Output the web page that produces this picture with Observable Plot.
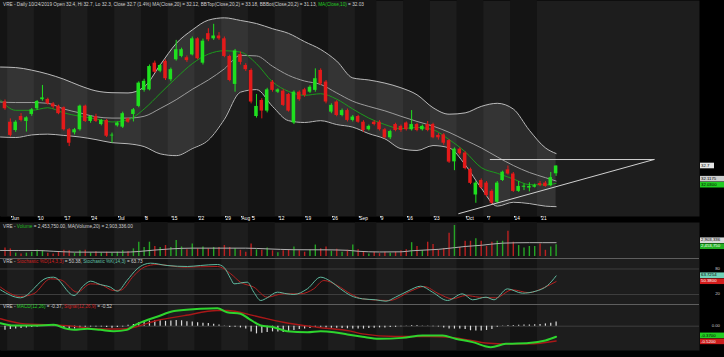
<!DOCTYPE html>
<html><head><meta charset="utf-8">
<script src="https://cdn.jsdelivr.net/npm/d3@7"></script>
<script src="https://cdn.jsdelivr.net/npm/@observablehq/plot@0.6"></script>
<style>
html,body{margin:0;padding:0;background:#000;}
#chart{position:relative;width:724px;height:357px;background:#000;overflow:hidden;}
#chart svg{position:absolute;left:0;}
</style></head><body><div id="chart"></div>
<script>
// ---------- data ----------
const dates = ["05-31","06-03","06-04","06-05","06-06","06-07","06-10","06-11","06-12","06-13","06-14","06-17","06-18","06-19","06-20","06-21","06-24","06-25","06-26","06-27","06-28","07-01","07-02","07-03","07-04","07-05","07-08","07-09","07-10","07-11","07-12","07-15","07-16","07-17","07-18","07-19","07-22","07-23","07-24","07-25","07-26","07-29","07-30","07-31","08-01","08-02","08-05","08-06","08-07","08-08","08-09","08-12","08-13","08-14","08-15","08-16","08-19","08-20","08-21","08-22","08-23","08-26","08-27","08-28","08-29","08-30","09-03","09-04","09-05","09-06","09-09","09-10","09-11","09-12","09-13","09-16","09-17","09-18","09-19","09-20","09-23","09-24","09-25","09-26","09-27","09-30","10-01","10-02","10-03","10-04","10-07","10-08","10-09","10-10","10-11","10-14","10-15","10-16","10-17","10-18","10-21","10-22","10-23","10-24"];

const open = [35.17,34.39,34.07,34.61,34.42,34.69,34.91,35.26,35.27,35.10,
  35.01,34.95,34.10,33.98,34.10,35.01,34.42,34.61,34.30,34.46,
  33.86,34.25,34.20,34.52,34.69,35.00,35.62,35.64,36.67,36.36,
  36.74,36.03,36.80,36.93,36.88,36.99,37.61,36.67,37.81,37.61,
  37.72,37.61,36.93,35.85,37.00,36.58,36.39,34.61,35.23,34.82,
  35.94,35.55,35.59,35.46,34.36,35.55,35.64,35.55,35.62,36.39,
  35.94,34.78,35.17,34.65,34.84,34.46,34.61,34.39,34.10,34.39,
  34.39,34.10,33.79,34.30,34.23,34.36,34.10,34.30,34.10,34.30,
  34.30,33.88,33.90,33.68,32.86,33.35,33.20,32.57,31.58,32.14,
  32.04,31.72,31.30,32.14,32.55,32.39,31.72,31.88,31.85,31.88,
  32.02,32.04,31.94,32.40];
const close = [34.91,33.88,34.39,34.46,34.56,34.87,35.19,35.33,35.10,34.98,
  34.72,34.10,33.58,34.10,35.01,34.42,34.61,34.42,34.46,33.85,
  33.89,34.36,34.72,34.39,34.87,35.90,35.97,36.54,36.32,36.58,
  36.07,36.42,37.19,37.19,36.77,37.61,36.84,37.52,37.57,37.72,
  37.61,36.93,36.00,37.14,36.70,36.42,35.17,35.00,34.82,35.64,
  35.62,35.64,35.04,34.82,35.55,35.26,35.42,35.74,36.07,35.87,
  35.17,35.04,34.65,34.84,34.46,34.59,34.39,34.07,34.23,34.30,
  34.10,33.79,34.03,34.07,34.07,34.10,34.30,34.07,34.23,34.07,
  33.79,33.79,33.58,32.85,33.35,33.17,32.60,32.03,32.04,31.86,
  31.56,31.26,32.04,32.46,32.39,31.72,31.91,31.92,31.91,31.94,
  31.95,31.91,32.25,32.70];
const high = [35.25,34.52,34.45,34.72,34.60,34.92,35.23,35.81,35.32,35.15,
  35.05,34.98,34.15,34.15,35.05,35.05,34.65,34.70,34.50,34.50,
  33.97,34.40,34.78,34.55,34.92,35.95,36.05,36.60,36.75,36.62,
  36.80,36.48,37.55,37.25,36.95,37.68,37.65,37.60,38.00,38.17,
  37.85,37.68,36.98,37.20,37.10,36.65,36.45,35.46,35.30,35.70,
  36.00,35.68,35.65,35.50,35.60,35.60,35.70,35.80,36.45,36.45,
  36.00,35.10,35.22,34.90,34.90,34.65,34.66,34.45,34.28,34.45,
  34.45,34.15,34.08,34.35,34.28,34.40,34.84,34.35,34.28,34.42,
  34.35,33.95,33.95,33.72,33.40,33.40,33.25,32.62,32.10,32.20,
  32.10,31.78,32.10,32.50,32.70,32.45,32.10,32.00,32.05,32.00,
  32.10,32.10,32.45,32.70];
const low = [34.85,33.82,34.00,34.40,34.01,34.62,34.85,35.20,35.05,34.90,
  34.68,34.05,33.45,33.90,34.05,34.38,34.35,34.38,34.25,33.80,
  33.58,34.20,34.15,34.35,34.40,34.95,35.55,35.60,36.28,36.30,
  36.00,35.95,36.75,36.88,36.70,36.95,36.80,36.60,37.50,37.55,
  37.55,36.88,35.95,35.55,36.60,36.35,35.10,34.55,34.52,34.75,
  35.55,35.50,35.00,34.78,34.30,35.20,35.35,35.50,35.55,35.80,
  35.10,34.72,34.60,34.60,34.40,34.40,34.35,34.00,34.05,34.25,
  34.05,33.75,33.72,34.02,34.00,34.05,34.05,34.02,34.05,34.02,
  33.75,33.70,33.50,32.80,32.52,33.10,32.55,31.98,31.26,31.80,
  31.50,31.20,31.25,32.10,32.35,31.68,31.68,31.75,31.70,31.85,
  31.90,31.88,31.90,32.30];
// volume in millions of shares
const volume = [1.8,1.6,0.7,0.5,0.7,0.9,1.3,1.2,0.7,0.5,
  0.9,1.3,1.2,0.7,1.2,1.3,0.7,1.0,0.7,0.9,
  0.7,0.9,1.2,1.0,1.6,3.0,1.9,3.0,2.1,1.9,
  2.3,1.9,3.35,2.0,1.4,2.6,1.6,2.0,1.6,1.9,
  1.9,2.3,1.9,1.6,1.3,0.9,2.6,1.4,1.3,1.8,
  1.2,0.8,1.2,1.3,2.0,1.2,0.9,1.3,2.4,1.6,
  2.0,1.1,1.5,0.9,1.3,2.4,1.4,0.9,0.5,0.9,
  0.6,0.9,0.7,0.9,1.2,1.4,2.9,2.1,1.2,3.0,
  2.5,1.4,1.6,4.9,6.5,1.9,3.2,3.2,3.7,3.2,
  2.1,3.0,3.2,3.2,5.3,3.0,2.3,1.8,2.1,2.1,
  2.6,1.3,2.0,2.45];
const macdHist = [-0.14,-0.12,-0.10,-0.08,-0.06,-0.05,-0.03,-0.01,0.01,0.02,
  -0.02,-0.08,-0.12,-0.10,-0.06,-0.04,-0.03,-0.03,-0.03,-0.05,
  -0.07,-0.05,-0.03,0.03,0.06,0.12,0.15,0.18,0.19,0.19,
  0.17,0.18,0.20,0.19,0.16,0.15,0.12,0.10,0.09,0.07,
  0.04,0.01,-0.05,-0.04,-0.06,-0.10,-0.20,-0.27,-0.25,-0.22,
  -0.20,-0.20,-0.22,-0.20,-0.15,-0.12,-0.10,-0.08,-0.05,-0.04,
  -0.06,-0.07,-0.07,-0.08,-0.09,-0.10,-0.10,-0.10,-0.08,-0.07,
  -0.06,-0.06,-0.05,-0.04,-0.02,0.01,0.02,0.02,0.01,0.01,
  -0.02,-0.03,-0.06,-0.10,-0.10,-0.10,-0.12,-0.16,-0.17,-0.17,
  -0.15,-0.12,-0.04,0.01,0.02,0.02,0.03,0.04,0.04,0.05,
  0.06,0.08,0.10,0.15];

// overlay lines at sample days (day index, value)
const bandIdx = [-0.84,2,5,8,11,14,17,20,23,26,29,32,35,38,41,44,47,50,53,56,59,62,65,68,71,74,77,80,83,86,89,92,95,98,101,103];
const bbTop = [36.52,36.5,36.4,36.25,36.05,35.8,35.6,35.53,35.52,35.75,36.6,37.43,37.95,38.33,38.42,38.32,38.2,38.0,37.82,37.5,37.2,36.75,36.1,36.02,35.9,35.72,35.45,34.95,34.7,34.75,35.0,35.12,34.9,34.08,33.4,33.18];
const ma20 = [35.17,35.15,35.15,35.12,34.9,34.75,34.6,34.55,34.55,34.62,34.92,35.26,35.66,36.02,36.45,36.97,36.95,36.55,36.2,35.98,35.85,35.52,35.2,35.0,34.83,34.62,34.42,34.24,34.0,33.7,33.4,33.05,32.72,32.45,32.25,32.12];
const bbBot = [33.82,33.8,33.9,33.93,33.88,33.82,33.72,33.6,33.56,33.45,33.17,33.1,33.37,33.7,34.5,35.55,35.65,35.0,34.45,34.38,34.45,34.3,34.2,33.95,33.75,33.37,33.3,33.49,33.4,32.75,31.85,31.15,31.3,31.25,31.15,31.13];
const ma10 = [35.25,34.85,34.85,34.95,34.75,34.62,34.52,34.4,34.48,34.9,35.5,36.1,36.65,37.02,37.15,37.1,36.65,35.95,35.58,35.43,35.49,35.28,34.9,34.55,34.3,34.14,34.19,34.1,33.72,33.25,32.64,32.42,32.2,31.98,31.97,32.03];

const volMA = [[-0.84,1.26],[6,1.26],[9,1.1],[13,0.92],[22,0.9],[25,1.05],[28,1.35],[31,1.6],[35,1.75],[45,1.75],[49,1.6],[54,1.42],[60,1.4],[64,1.3],[66,1.1],[70,0.95],[74,0.98],[76,1.2],[81,1.5],[84,1.85],[86,2.1],[89,2.35],[93,2.8],[98,2.9],[103,2.9]];

const stochK = [[-0.84,31],[2.9,12.2],[7.9,59.2],[9.1,60.8],[12.9,17.6],[14.7,41.2],[16,51.4],[17.8,43.5],[19.7,37.3],[21,27.8],[22.8,52.9],[24.7,80.4],[26,90.6],[27.2,93.7],[30.3,88.2],[34.1,85.9],[36.5,88.2],[39.7,90.6],[40.9,84.3],[42.2,56.9],[42.8,45.1],[45.3,49.0],[46.5,25.5],[47.8,5.9],[49,12.2],[50.9,25.5],[52.7,21.6],[54,20.0],[56.5,33.3],[59,60.8],[60.8,51.4],[62.7,33.3],[64.6,17.6],[66.8,9.8],[69.3,7.5],[71.2,4.3],[73,13.7],[75.5,29.4],[77.7,39.6],[79.9,25.5],[82.7,5.9],[85.5,21.6],[87.4,7.5],[89.9,13.7],[91.4,7.5],[93.9,33.3],[96.7,23.1],[99.2,27.8],[101.4,41.2],[103,63.73]];
const stochD = [[-0.84,37.3],[2.9,15.3],[5.4,22],[8.5,56.9],[10.4,54.5],[13.5,25.5],[16,45.1],[17.8,43.5],[20.3,29.4],[21.6,30],[24.1,64.7],[26,84.3],[28.4,90.6],[33.5,84.3],[39.7,85.9],[42.2,68.6],[44,49],[46.5,37.3],[49,13.7],[52,21.6],[55.2,21.6],[57.7,33.3],[59.6,52.9],[62.1,41.2],[64.6,21.6],[66.8,9.8],[71.8,5.9],[76.1,29.4],[78.3,38.8],[81.1,21.6],[83.6,9.8],[86.1,17.6],[88.6,13.7],[91.7,12.2],[94.8,31.0],[97.9,24.3],[100.8,36.5],[103,50.38]];

const macdLine = [[-0.84,0.106],[1.7,0.023],[5.4,0.023],[9.1,0.047],[11.6,-0.094],[12.9,-0.129],[15.4,-0.094],[17.8,-0.129],[20.3,-0.175],[22.8,-0.129],[24.1,0.023],[26,0.175],[28.4,0.33],[31.6,0.53],[36.5,0.61],[39.7,0.63],[41.5,0.49],[44,0.434],[45.6,0.26],[47.8,0.023],[50.2,-0.035],[52.7,-0.175],[56.5,-0.21],[59,-0.175],[61.5,-0.21],[64,-0.29],[66.8,-0.37],[69.9,-0.44],[74.3,-0.41],[78,-0.33],[81.8,-0.33],[84.2,-0.44],[87.4,-0.56],[90.8,-0.74],[93.6,-0.62],[97.9,-0.59],[101,-0.5],[103,-0.37]];
const signalLine = [[-0.84,0.26],[2.9,0.1],[11.6,0.02],[17.8,-0.1],[22,-0.1],[24.1,-0.04],[28.4,0.2],[33.5,0.37],[39.7,0.55],[41.5,0.55],[46.5,0.37],[52,0.14],[58.3,-0.035],[64.6,-0.175],[66.8,-0.27],[73,-0.36],[79.3,-0.36],[84.2,-0.41],[90.5,-0.6],[93.6,-0.62],[97.9,-0.62],[103,-0.52]];

// user-drawn triangle (day index, price)
const trendFlat = [[90.7,32.95],[121.3,32.95]];
const trendRise = [[84.8,30.86],[121.3,32.95]];

const tickDates = ["06-03","06-10","06-17","06-24","07-01","07-08","07-15","07-22","07-29","08-01","08-05","08-12","08-19","08-26","09-03","09-09","09-16","09-23","10-01","10-07","10-14","10-21"];
const tickLabels = ["Jun","10","17","24","Jul","8","15","22","29","Aug","5","12","19","26","Sep","9","16","23","Oct","7","14","21"];

// ---------- derived tables ----------
const candles = dates.map((d, i) => ({i, d, o: open[i], h: high[i], l: low[i], c: close[i], v: volume[i], hist: macdHist[i]}));
const bands = bandIdx.map((i, k) => ({i, hi: bbTop[k], mid: ma20[k], lo: bbBot[k], ma10: ma10[k]}));
const dow = dates.map(d => new Date("2019-" + d + "T00:00:00Z").getUTCDay());
const starts = dates.map((d, i) => i).filter(i => i === 0 || dow[i] <= dow[i - 1]);
const XD = [-0.84, 129.8];
const weeks = starts.map((s, k) => ({k, x1: k === 0 ? XD[0] : s - 0.5, x2: (k + 1 < starts.length ? starts[k + 1] : dates.length) - 0.5}));
const darkWeeks = weeks.filter(w => w.k % 2 === 0);
const tickIdx = tickDates.map(d => dates.indexOf(d));
const tickMap = new Map(tickIdx.map((t, k) => [t, tickLabels[k]]));

const FONT = "Liberation Sans, Arial, Helvetica, sans-serif";
const BG = "#1d1d1d", DARK = "#141414";
const UP = "#1fe01f", DOWN = "#e41a1a";
const isUp = d => d.c >= d.o;

function base(extra) {
  return [Plot.frame({fill: BG, stroke: null}), Plot.rect(darkWeeks, {x1: "x1", x2: "x2", fill: DARK}), ...extra];
}
function mk(height, yd, marks, mb = 0) {
  return Plot.plot({
    width: 724, height, marginLeft: 0, marginRight: 25, marginTop: 0, marginBottom: mb,
    x: {domain: XD, axis: null}, y: {domain: yd, axis: null},
    style: {background: "transparent", overflow: "visible", fontFamily: FONT},
    marks
  });
}

const chart = document.getElementById("chart");
function place(svg, top) { svg.style.top = top + "px"; chart.appendChild(svg); return svg; }

function header(svg, y, parts, size = 4.7) {
  const t = d3.select(svg).append("text").attr("x", 3).attr("y", y).attr("text-anchor", "start")
    .attr("font-family", FONT).attr("font-size", size).attr("dominant-baseline", "middle");
  parts.forEach(([s, c]) => t.append("tspan").attr("fill", c).text(s));
}
function rlabels(svg, plot, items) {
  const ys = plot.scale("y");
  const arr = items.map(it => ({...it, y: ys.apply(it.v)})).sort((a, b) => a.y - b.y);
  for (let pass = 0; pass < 3; pass++)
    for (let j = 1; j < arr.length; j++) {
      const gap = arr[j].y - arr[j - 1].y;
      if (gap < 6) { const s = (6 - gap) / 2; arr[j].y += s; arr[j - 1].y -= s; }
    }
  const g = d3.select(svg).append("g");
  arr.forEach(a => {
    if (a.bg) g.append("rect").attr("x", 700).attr("y", a.y - 2.8).attr("width", a.w || 24).attr("height", 5.6).attr("fill", a.bg);
    g.append("text").attr("x", a.bg ? 701 : 720).attr("y", a.y).attr("text-anchor", a.bg ? "start" : "end")
      .attr("dominant-baseline", "middle").attr("font-family", FONT).attr("font-size", 4.3).attr("fill", a.fg).text(a.text);
  });
}
function sep(svg) {
  d3.select(svg).append("line").attr("x1", 0).attr("x2", 699).attr("y1", 0.5).attr("y2", 0.5).attr("stroke", "#5e5e5e").attr("stroke-width", 1);
}
const GRAY = "#cfcfcf";

// ---------- main price panel ----------
const main = mk(222, [30.75, 39.09], base([
  Plot.areaY(bands, {x: "i", y1: "lo", y2: "hi", fill: "#ffffff", fillOpacity: 0.1, curve: "monotone-x"}),
  Plot.line(bands, {x: "i", y: "hi", stroke: "#b8b8b8", strokeWidth: 1, curve: "monotone-x"}),
  Plot.line(bands, {x: "i", y: "lo", stroke: "#b8b8b8", strokeWidth: 1, curve: "monotone-x"}),
  Plot.line(bands, {x: "i", y: "mid", stroke: "#9c9c9c", strokeWidth: 1, curve: "monotone-x"}),
  Plot.line(bands, {x: "i", y: "ma10", stroke: "#1c9a1c", strokeWidth: 1, curve: "monotone-x"}),
  Plot.ruleX(candles, {x: "i", y1: "l", y2: "h", stroke: d => isUp(d) ? UP : DOWN, strokeWidth: 1}),
  Plot.rect(candles, {x1: d => d.i - 0.33, x2: d => d.i + 0.33, y1: "o", y2: "c", fill: d => isUp(d) ? UP : DOWN}),
  Plot.line(trendFlat, {stroke: "#d0d0d0", strokeWidth: 1}),
  Plot.line(trendRise, {stroke: "#d0d0d0", strokeWidth: 1}),
  Plot.axisX(tickIdx, {anchor: "bottom", tickSize: 1.5, tickPadding: -1.2, tickFormat: d => tickMap.get(d), fontSize: 4.8, color: "#ffffff", textAnchor: "start", dx: 1.2})
]), 6);
place(main, 0);
header(main, 4.8, [["VRE - Daily 10/24/2019 Open 32.4, Hi 32.7, Lo 32.3, Close 32.7 (1.4%) MA(Close,20) = 32.12, BBTop(Close,20,2) = 33.18, BBBot(Close,20,2) = 31.13, ", GRAY], ["MA(Close,10)", "#22cc22"], [" = 32.03", GRAY]]);
rlabels(main, main, [
  {v: 32.7, text: "32.7", bg: "#e4e4e4", fg: "#000", w: 14},
  {v: 32.12, text: "32.1175", bg: "#cccccc", fg: "#000"},
  {v: 32.03, text: "32.0300", bg: "#22cc22", fg: "#000"}
]);

// ---------- volume panel ----------
const vol = mk(36, [-0.42, 7.13], base([
  Plot.ruleX(candles, {x: "i", y1: 0, y2: "v", stroke: d => isUp(d) ? "#25a525" : "#bb2020", strokeWidth: 1.4}),
  Plot.line(volMA, {stroke: "#b0b0b0", strokeWidth: 1, curve: "monotone-x"})
]));
place(vol, 222);
header(vol, 4.7, [["VRE - ", GRAY], ["Volume", "#22bb22"], [" = 2,453,750.00, MA(Volume,20) = 2,903,336.00", GRAY]]);
rlabels(vol, vol, [
  {v: 2.903, text: "2,903,336", bg: "#d8d8d8", fg: "#000"},
  {v: 2.454, text: "2,453,750", bg: "#22b022", fg: "#fff"}
]);

// ---------- stochastic panel ----------
const sto = mk(46, [-3.53, 104.7], base([
  Plot.ruleY([20, 80], {stroke: "#3e3e3e", strokeWidth: 1}),
  Plot.line(stochD, {stroke: "#b42020", strokeWidth: 1, curve: "monotone-x"}),
  Plot.line(stochK, {stroke: "#5fb89e", strokeWidth: 1, curve: "monotone-x"})
]));
place(sto, 258);
sep(sto);
header(sto, 3.8, [["VRE - ", GRAY], ["Stochastic %D(14,3,3)", "#cc2020"], [" = 50.38, ", GRAY], ["Stochastic %K(14,3)", "#5fc0a5"], [" = 63.73", GRAY]]);
rlabels(sto, sto, [
  {v: 80, text: "80", fg: "#cccccc"},
  {v: 20, text: "20", fg: "#cccccc"},
  {v: 63.73, text: "63.7254", bg: "#6fd2b6", fg: "#000"},
  {v: 50.38, text: "50.3800", bg: "#d41c1c", fg: "#fff"}
]);

// ---------- MACD panel ----------
const mac = mk(46, [-0.853, 0.761], base([
  Plot.ruleY([0], {stroke: "#3e3e3e", strokeWidth: 1}),
  Plot.ruleX(candles, {x: "i", y1: 0, y2: "hist", stroke: "#dcdcdc", strokeWidth: 1.2}),
  Plot.line(signalLine, {stroke: "#a81818", strokeWidth: 1.4, curve: "monotone-x"}),
  Plot.line(macdLine, {stroke: "#2ed42e", strokeWidth: 2, curve: "monotone-x"})
]));
place(mac, 304);
sep(mac);
header(mac, 2.9, [["VRE - ", GRAY], ["MACD(12,26)", "#22cc22"], [" = -0.37, ", GRAY], ["Signal(12,26,9)", "#cc2020"], [" = -0.52", GRAY]]);
rlabels(mac, mac, [
  {v: 0, text: "0.00", fg: "#cccccc"},
  {v: -0.37, text: "-0.3700", bg: "#22cc22", fg: "#000"},
  {v: -0.52, text: "-0.5200", bg: "#cc1c1c", fg: "#fff"}
]);
</script>
</body></html>
